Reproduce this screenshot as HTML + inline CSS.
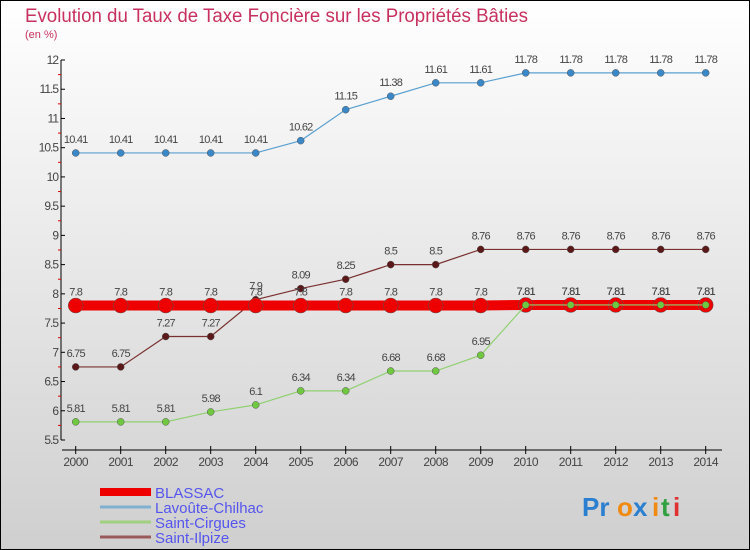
<!DOCTYPE html>
<html><head><meta charset="utf-8"><style>
html,body{margin:0;padding:0;}
svg{display:block;font-family:"Liberation Sans",sans-serif;}
</style></head><body>
<svg id="chart" width="750" height="550" viewBox="0 0 750 550">
<defs><linearGradient id="bg" x1="0" y1="0" x2="0" y2="1"><stop offset="0" stop-color="#ffffff"/><stop offset="1" stop-color="#cfcfcf"/></linearGradient></defs>
<rect x="0.5" y="0.5" width="749" height="549" fill="url(#bg)" stroke="#000"/>
<text x="25" y="22" font-size="19" fill="#c83060" textLength="503" lengthAdjust="spacingAndGlyphs">Evolution du Taux de Taxe Foncière sur les Propriétés Bâties</text>
<text x="25" y="38" font-size="11" fill="#c83060">(en %)</text>
<g id="axes"></g>
<g id="series"></g>
<g id="legend"></g>
<g font-size="26" font-weight="bold">
<text x="582" y="516" fill="#2a7fd0">Pr</text><text x="617" y="516" fill="#f08a10">o</text><text x="633" y="516" fill="#2a7fd0">x</text><text x="652" y="516" fill="#f08a10">i</text><text x="661" y="516" fill="#30a040">t</text><text x="673" y="516" fill="#e03030">i</text>
</g>
</svg>
<script>
const years=[2000,2001,2002,2003,2004,2005,2006,2007,2008,2009,2010,2011,2012,2013,2014];
const yTicks=[5.5,6,6.5,7,7.5,8,8.5,9,9.5,10,10.5,11,11.5,12];
const blassac=[7.8,7.8,7.8,7.8,7.8,7.8,7.8,7.8,7.8,7.8,7.81,7.81,7.81,7.81,7.81];
const lavoute=[10.41,10.41,10.41,10.41,10.41,10.62,11.15,11.38,11.61,11.61,11.78,11.78,11.78,11.78,11.78];
const cirgues=[5.81,5.81,5.81,5.98,6.1,6.34,6.34,6.68,6.68,6.95,7.81,7.81,7.81,7.81,7.81];
const ilpize=[6.75,6.75,7.27,7.27,7.9,8.09,8.25,8.5,8.5,8.76,8.76,8.76,8.76,8.76,8.76];
const seriesNames=["BLASSAC","Lavoûte-Chilhac","Saint-Cirgues","Saint-Ilpize"];
const NS="http://www.w3.org/2000/svg";
const x=i=>75.7+i*45;
const y=v=>440-(v-5.5)*(380/6.5);
function mk(t,a,p){const e=document.createElementNS(NS,t);for(const k in a)e.setAttribute(k,a[k]);p.appendChild(e);return e;}
const ax=document.getElementById('axes');
const yl=mk('line',{x1:61,y1:60,x2:61,y2:440,stroke:'#000'},ax);


const xl=mk('line',{x1:62,y1:450,x2:722,y2:450,stroke:'#000'},ax);


yTicks.forEach((v,i)=>{
 mk('line',{x1:61,y1:y(v),x2:65,y2:y(v),stroke:'#000'},ax);
 if(i<yTicks.length-1)mk('line',{x1:58,y1:y(v+0.25),x2:61,y2:y(v+0.25),stroke:'#e00000'},ax);
 const t=mk('text',{x:58,y:y(v)+4,'font-size':12,fill:'#444','text-anchor':'end','letter-spacing':'-1'},ax);
 t.textContent=String(v);
 
 
});
years.forEach((yr,i)=>{
 mk('line',{x1:x(i),y1:446,x2:x(i),y2:454,stroke:'#000'},ax);
 const t=mk('text',{x:x(i),y:466,'font-size':12,fill:'#444','text-anchor':'middle','letter-spacing':'-0.5'},ax);
 t.textContent=yr;
 
 
});
const sg=document.getElementById('series');
function draw(data,color,dot,w,r,name,labels){
 const g=mk('g',{},sg);
 
 
 const pl=mk('polyline',{points:data.map((v,i)=>x(i)+','+y(v)).join(' '),fill:'none',stroke:color,'stroke-width':w},g);
 
 
 data.forEach((v,i)=>{
  const c=mk('circle',{cx:x(i),cy:y(v),r:r,fill:dot,stroke:'#555','stroke-width':0.5},g);
  
  
  if(labels){const t=mk('text',{x:x(i),y:y(v)-10,'font-size':11,fill:'#444','text-anchor':'middle','letter-spacing':'-0.8'},g);
  t.textContent=String(v);
  
  }
 });
}
draw(ilpize,'#7a3030','#5a1818',1.2,3.5,'saint-ilpize-series',true);
draw(lavoute,'#5aa0d0','#3a88c8',1.2,3.5,'lavoute-chilhac-series',true);
draw(blassac,'#ee0000','#ee0000',10,7.5,'blassac-series',true);
draw(cirgues,'#90d070','#70c840',1.2,3.5,'saint-cirgues-series',true);
const lg=document.getElementById('legend');
const lc=['#ee0000','#7fb0d0','#a0d080','#9a5a5a'],lw=[8,3,3,3];
seriesNames.forEach((n,i)=>{
 const yy=492+i*15;
 const l=mk('line',{x1:100,y1:yy,x2:151,y2:yy,stroke:lc[i],'stroke-width':lw[i]},lg);
 
 
 const t=mk('text',{x:155,y:yy+6,'font-size':15,fill:'#5555ee'},lg);
 t.textContent=n;
 
 
});
</script>
</body></html>
